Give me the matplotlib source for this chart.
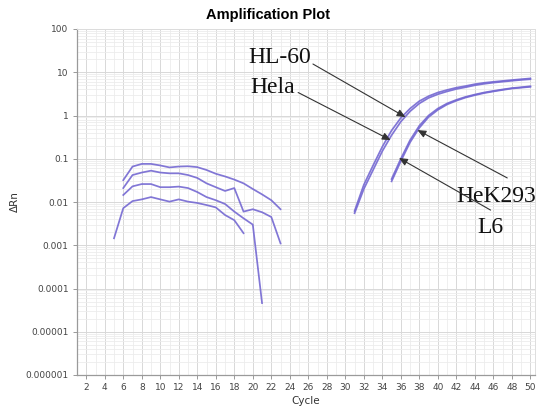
import matplotlib
matplotlib.use("Agg")
import matplotlib.pyplot as plt
from matplotlib.ticker import FixedLocator, LogLocator, NullFormatter, MultipleLocator

# ---- data ----
early_cycles_1 = [6, 7, 8, 9, 10, 11, 12, 13, 14, 15, 16, 17, 18, 19, 20, 21, 22, 23]
early_1 = [0.032, 0.066, 0.076, 0.076, 0.070, 0.063, 0.066, 0.067, 0.064, 0.055, 0.045,
           0.039, 0.033, 0.027, 0.020, 0.015, 0.011, 0.0068]
early_cycles_2 = [6, 7, 8, 9, 10, 11, 12, 13, 14, 15, 16, 17, 18, 19, 20, 21, 22, 23]
early_2 = [0.021, 0.042, 0.048, 0.053, 0.048, 0.046, 0.046, 0.042, 0.036, 0.027, 0.022,
           0.018, 0.021, 0.006, 0.0068, 0.0058, 0.0045, 0.0011]
early_cycles_3 = [6, 7, 8, 9, 10, 11, 12, 13, 14, 15, 16, 17, 18, 19, 20, 21]
early_3 = [0.0145, 0.023, 0.026, 0.026, 0.022, 0.022, 0.0227, 0.021, 0.017, 0.013, 0.011,
           0.009, 0.006, 0.0042, 0.003, 0.000046]
early_cycles_4 = [5, 6, 7, 8, 9, 10, 11, 12, 13, 14, 15, 16, 17, 18, 19]
early_4 = [0.00145, 0.0072, 0.0105, 0.0115, 0.013, 0.0115, 0.0102, 0.0115, 0.0102, 0.0095,
           0.0085, 0.0075, 0.005, 0.0038, 0.0019]

late_cycles_a = [31, 32, 33, 34, 35, 36, 37, 38, 39, 40, 41, 42, 43, 44, 45, 46, 47, 48, 49, 50]
hl60 = [0.0062, 0.025, 0.07, 0.19, 0.45, 0.88, 1.45, 2.15, 2.8, 3.4, 3.9, 4.4, 4.8, 5.3,
        5.7, 6.0, 6.3, 6.6, 6.9, 7.2]
hela = [0.0055, 0.02, 0.055, 0.15, 0.35, 0.72, 1.25, 1.9, 2.55, 3.1, 3.6, 4.1, 4.5, 5.0,
        5.4, 5.75, 6.05, 6.35, 6.65, 6.9]
late_cycles_b = [35, 36, 37, 38, 39, 40, 41, 42, 43, 44, 45, 46, 47, 48, 49, 50]
hek293 = [0.034, 0.1, 0.27, 0.58, 1.0, 1.45, 1.9, 2.3, 2.7, 3.05, 3.4, 3.7, 4.0, 4.3, 4.5, 4.75]
l6 = [0.03, 0.088, 0.24, 0.52, 0.92, 1.35, 1.8, 2.2, 2.6, 2.95, 3.3, 3.6, 3.9, 4.2, 4.4, 4.6]

y_ticks = [1e-6, 1e-5, 1e-4, 1e-3, 1e-2, 1e-1, 1, 10, 100]
y_tick_labels = ["0.000001", "0.00001", "0.0001", "0.001", "0.01", "0.1", "1", "10", "100"]
x_ticks = list(range(2, 51, 2))

# annotations: (label, text pos, arrow tail, arrow head)
labels = ["HL-60", "Hela", "HeK293", "L6"]
label_pos = [(19.5, 16.4), (19.7, 3.3), (42.0, 0.0098), (44.3, 0.0019)]
arrow_tail = [(26.5, 15.5), (24.9, 3.4), (47.5, 0.036), (45.7, 0.0065)]
arrow_head = [(36.5, 0.92), (34.9, 0.27), (37.8, 0.46), (35.8, 0.104)]

# ---- figure ----
fig = plt.figure(figsize=(5.38, 4.07), dpi=100)
ax = fig.add_axes([77 / 538, 1 - 375 / 407, 458 / 538, 346 / 407])

line_color = "#7468d2"
for xs, ys in [(early_cycles_1, early_1), (early_cycles_2, early_2),
               (early_cycles_3, early_3), (early_cycles_4, early_4),
               (late_cycles_a, hl60), (late_cycles_a, hela),
               (late_cycles_b, hek293), (late_cycles_b, l6)]:
    ax.plot(xs, ys, color=line_color, lw=1.25, alpha=0.9, solid_joinstyle="round")

ax.set_yscale("log")
ax.set_ylim(1e-6, 100)
ax.set_xlim(1, 50.5)

ax.yaxis.set_major_locator(FixedLocator(y_ticks))
ax.set_yticklabels(y_tick_labels)
ax.yaxis.set_minor_locator(LogLocator(base=10, subs=range(2, 10)))
ax.yaxis.set_minor_formatter(NullFormatter())
ax.xaxis.set_major_locator(FixedLocator(x_ticks))
ax.xaxis.set_minor_locator(MultipleLocator(1))

ax.grid(which="major", color="#d8d8d8", lw=0.7)
ax.grid(which="minor", color="#ececec", lw=0.6)
ax.set_axisbelow(True)

ax.tick_params(axis="both", which="major", labelsize=6.5, labelcolor="#444444",
               color="#999999", length=3, width=0.7, pad=3)
ax.tick_params(axis="both", which="minor", length=0)
for side in ["left", "bottom"]:
    ax.spines[side].set_color("#9a9a9a")
    ax.spines[side].set_linewidth(0.9)
for side in ["top", "right"]:
    ax.spines[side].set_color("#dddddd")
    ax.spines[side].set_linewidth(0.7)

ax.set_xlabel("Cycle", fontsize=7.5, color="#333333", labelpad=3)
ax.set_ylabel("\u0394Rn", fontsize=7.5, color="#333333", labelpad=4)
fig.text(268 / 538, 1 - 15 / 407, "Amplification Plot", ha="center", va="center",
         fontsize=10.5, fontweight="bold", family="Liberation Sans")

for lab, pos, tail, head in zip(labels, label_pos, arrow_tail, arrow_head):
    ax.text(pos[0], pos[1], lab, family="Liberation Serif", fontsize=17,
            ha="left", va="baseline", color="#111111")
    ax.annotate("", xy=head, xytext=tail,
                arrowprops=dict(arrowstyle="-|>,head_length=0.5,head_width=0.22",
                                color="#333333", lw=0.8, shrinkA=0, shrinkB=0))

fig.savefig("out.png", dpi=100)
